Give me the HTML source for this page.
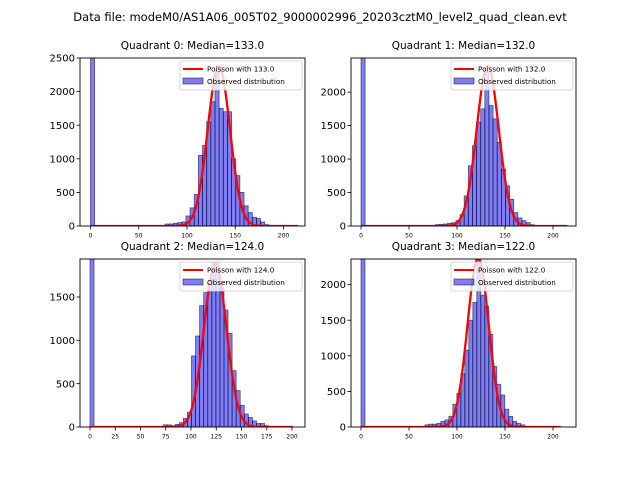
<!DOCTYPE html>
<html><head><meta charset="utf-8"><style>
body{margin:0;background:#fff;}
svg{display:block;font-family:"DejaVu Sans","Liberation Sans",sans-serif;}
</style></head><body>
<svg id="fig" width="640" height="480" viewBox="0 0 640 480">
<rect width="640" height="480" fill="#fff"/>
<text x="320" y="21" font-size="11.5" text-anchor="middle">Data file: modeM0/AS1A06_005T02_9000002996_20203cztM0_level2_quad_clean.evt</text>
</svg>
<script>
// ---- data ----
const q0Medians = [133.0, 132.0, 124.0, 122.0];
const q0Counts = [5000,0,0,0,0,0,0,0,0,0,0,0,0,0,0,0,0,0,30,30,40,50,60,150,270,470,1050,1200,1550,1850,2300,1750,1700,1700,1000,750,500,300,200,130,110,60,20,10,5,3,0,0,0,0];
const q1Counts = [5000,0,0,0,0,0,0,0,0,0,0,0,0,0,0,0,0,0,20,25,30,40,50,80,170,450,900,1200,1550,1750,2300,1800,1600,1250,850,600,400,200,120,80,50,20,8,4,0,0,0,0,0,0];
const q2Counts = [5000,0,0,0,0,0,0,0,0,0,0,0,0,0,0,0,0,0,25,25,15,30,50,100,170,820,1050,1400,1550,1650,1900,1900,1600,1350,1080,650,420,250,150,110,70,40,40,15,5,0,0,0,0,0];
const q3Counts = [5000,0,0,0,0,0,0,0,0,0,0,0,0,0,0,0,30,40,40,50,80,100,150,320,470,750,1080,1500,1750,2350,1850,1700,1300,850,600,450,250,150,80,50,30,10,5,0,0,0,0,0,0,0];
const binMax = [215, 215, 201, 208];
const curvePeak = [2380, 2390, 1880, 2370];
const q0Ticks = [0,500,1000,1500,2000,2500];
const q1Ticks = [0,500,1000,1500,2000];
const q2Ticks = [0,500,1000,1500];
const q3Ticks = [0,500,1000,1500,2000];
const xTicksA = [0,50,100,150,200];
const xTicksB = [0,25,50,75,100,125,150,175,200];

const NS="http://www.w3.org/2000/svg";
const fig=document.getElementById('fig');
function mk(tag,attrs,parent){const e=document.createElementNS(NS,tag);for(const k in attrs)e.setAttribute(k,attrs[k]);(parent||fig).appendChild(e);return e;}

const panels=[
 {L:80,R:305,T:58,B:226,x0:90.5,x1:283.5,ymax:2500,counts:q0Counts,yt:q0Ticks,xt:xTicksA},
 {L:351,R:576,T:58,B:226,x0:361,x1:553,ymax:2510,counts:q1Counts,yt:q1Ticks,xt:xTicksA},
 {L:80,R:305,T:259,B:427,x0:90,x1:292,ymax:1938,counts:q2Counts,yt:q2Ticks,xt:xTicksB},
 {L:351,R:576,T:259,B:427,x0:361,x1:553,ymax:2360,counts:q3Counts,yt:q3Ticks,xt:xTicksA},
];
panels.forEach((p,i)=>{
 const g=mk('g',{});
 
 
 const sx=v=>p.x0+(p.x1-p.x0)*v/200;
 const sy=v=>p.B-(p.B-p.T)*v/p.ymax;
 const cid='clip'+i;
 const cp=mk('clipPath',{id:cid},g);mk('rect',{x:p.L,y:p.T,width:p.R-p.L,height:p.B-p.T},cp);
 const plot=mk('g',{'clip-path':'url(#'+cid+')'},g);
 const n=p.counts.length,bw=binMax[i]/n;
 p.counts.forEach((c,k)=>{
  if(c<=0)return;
  const x=sx(k*bw),w=sx((k+1)*bw)-x,y=sy(c);
  const r=mk('rect',{x:x,y:y,width:w,height:p.B-y,fill:'rgba(0,0,230,0.5)',stroke:'rgba(0,0,60,0.6)','stroke-width':0.8},plot);
  
  
 });
 const lam=q0Medians[i],sig=Math.sqrt(lam);let d='';
 for(let v=0;v<=binMax[i];v+=0.5){const y=curvePeak[i]*Math.exp(-Math.pow(v-lam,2)/(2*sig*sig));d+=(v?'L':'M')+sx(v).toFixed(2)+','+sy(y).toFixed(2);}
 const cv=mk('path',{d:d,fill:'none',stroke:'#f00','stroke-width':2.3},plot);
 
 
 mk('rect',{x:p.L,y:p.T,width:p.R-p.L,height:p.B-p.T,fill:'none',stroke:'#000','stroke-width':0.9},g);
 p.yt.forEach(t=>{const y=sy(t);mk('line',{x1:p.L-3.5,x2:p.L,y1:y,y2:y,stroke:'#000','stroke-width':0.8},g);
  const tx=mk('text',{x:p.L-5,y:y+3.6,'font-size':10,'text-anchor':'end'},g);tx.textContent=t;
  });
 p.xt.forEach(t=>{const x=sx(t);mk('line',{x1:x,x2:x,y1:p.B,y2:p.B+3.5,stroke:'#000','stroke-width':0.8},g);
  const tx=mk('text',{x:x,y:p.B+11.5,'font-size':6,'text-anchor':'middle'},g);tx.textContent=t;
  });
 const tt=mk('text',{x:(p.L+p.R)/2,y:p.T-9,'font-size':10.5,'text-anchor':'middle'},g);
 tt.textContent='Quadrant '+i+': Median='+lam.toFixed(1);
 
 const lg=mk('g',{},g);
 
 const lx=p.R-125,ly=p.T+3;
 mk('rect',{x:lx,y:ly,width:122,height:29,rx:2,fill:'rgba(255,255,255,0.8)',stroke:'#ccc','stroke-width':0.8},lg);
 mk('line',{x1:lx+3,x2:lx+23,y1:ly+8,y2:ly+8,stroke:'#f00','stroke-width':2},lg);
 const t1=mk('text',{x:lx+27,y:ly+10.5,'font-size':7.2},lg);t1.textContent='Poisson with '+lam.toFixed(1);
 mk('rect',{x:lx+3,y:ly+17,width:20,height:6,fill:'rgba(0,0,230,0.5)',stroke:'rgba(0,0,60,0.6)','stroke-width':0.8},lg);
 const t2=mk('text',{x:lx+27,y:ly+23,'font-size':7.2},lg);t2.textContent='Observed distribution';
});
</script>
</body></html>
